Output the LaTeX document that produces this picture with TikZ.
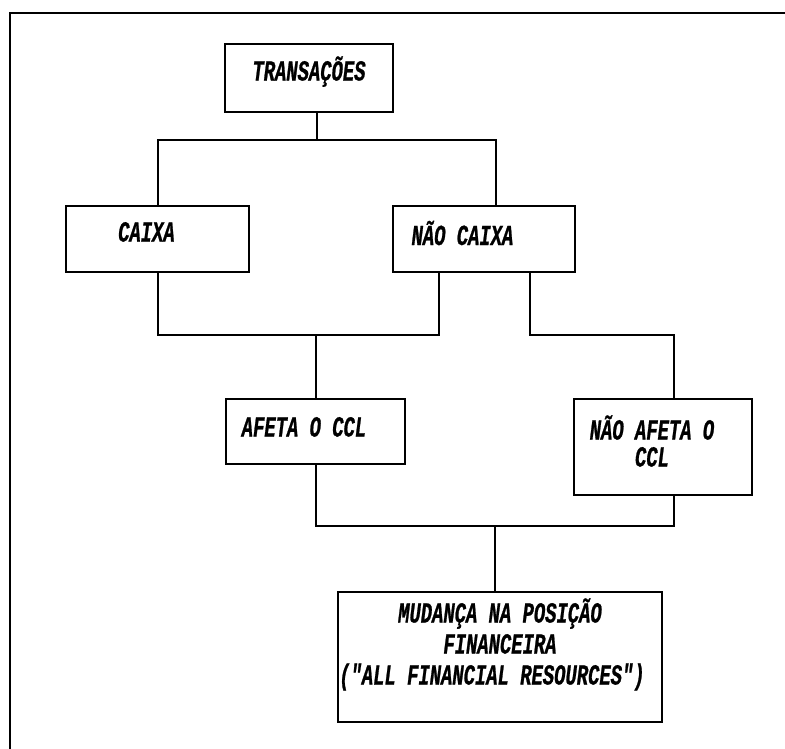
\documentclass[tikz,border=0pt]{standalone}
\usepackage{fontspec}
\newfontfamily\dotfont[FakeStretch=0.65,FakeBold=0.8]{Liberation Mono}
\usetikzlibrary{calc}
\tikzset{
 blocobox/.style={draw,line width=2pt,inner sep=0pt,align=center,text height=17pt,
   font=\dotfont\bfseries\itshape\fontsize{29}{32}\selectfont},
 link/.style={draw,line width=2pt},
 border/.style={draw,line width=2.4pt}
}

\begin{document}
\begin{tikzpicture}[x=1pt,y=-1pt]
  \useasboundingbox (0,0) rectangle (785,748);
  \draw[border] (10,752) -- (10,13) -- (789,13);

  % caixas
  \node[blocobox,minimum width=168pt,minimum height=68pt,text depth=12pt] (trans) at (309,78) {TRANSAÇÕES};
  \node[blocobox,minimum width=183pt,minimum height=66pt,text depth=12pt] (caixa) at (157.5,239) {CAIXA\hspace*{22pt}};
  \node[blocobox,minimum width=182pt,minimum height=66pt,text depth=5pt] (naocaixa) at (484,239) {NÃO CAIXA\hspace*{43pt}};
  \node[blocobox,minimum width=179pt,minimum height=65pt,text depth=7pt] (afeta) at (315.5,431.5) {AFETA O CCL\hspace*{23pt}};
  \node[blocobox,minimum width=178pt,minimum height=96pt,text height=49pt,text depth=10pt] (naoafeta) at (663,447) {NÃO AFETA O\hspace*{22pt}\\[-5pt]CCL\hspace*{22pt}};
  \node[blocobox,minimum width=324pt,minimum height=130pt,text height=71pt,text depth=16pt] (mudanca) at (500,657)
    {MUDANÇA NA POSIÇÃO\\[-1pt]FINANCEIRA\hspace*{24pt}\\[-1pt](\char34ALL FINANCIAL RESOURCES\char34)\hspace*{16pt}};

  % niveis das ligacoes
  \coordinate (busA) at (0,140);
  \coordinate (busB) at (0,335);
  \coordinate (busC) at (0,526);
  \coordinate (tjoin) at ($(trans.south)+(8,0)$);
  \coordinate (njoin) at ($(naocaixa.south)+(46,0)$);
  \coordinate (rjoin) at ($(naoafeta.north)+(11,0)$);
  \coordinate (mjoin) at ($(mudanca.north)+(-5,0)$);

  \draw[link] (tjoin) -- (tjoin |- busA);
  \draw[link] (caixa.north) -- (caixa.north |- busA) -| ($(naocaixa.north)+(12,0)$);
  \draw[link] (caixa.south) -- (caixa.south |- busB) -| ($(naocaixa.south)+(-45,0)$);
  \draw[link] (afeta.north) -- (afeta.north |- busB);
  \draw[link] (njoin) -- (njoin |- busB) -| (rjoin);
  \draw[link] (afeta.south) -- (afeta.south |- busC) -| ($(naoafeta.south)+(11,0)$);
  \draw[link] (mjoin) -- (mjoin |- busC);
\end{tikzpicture}
\end{document}
